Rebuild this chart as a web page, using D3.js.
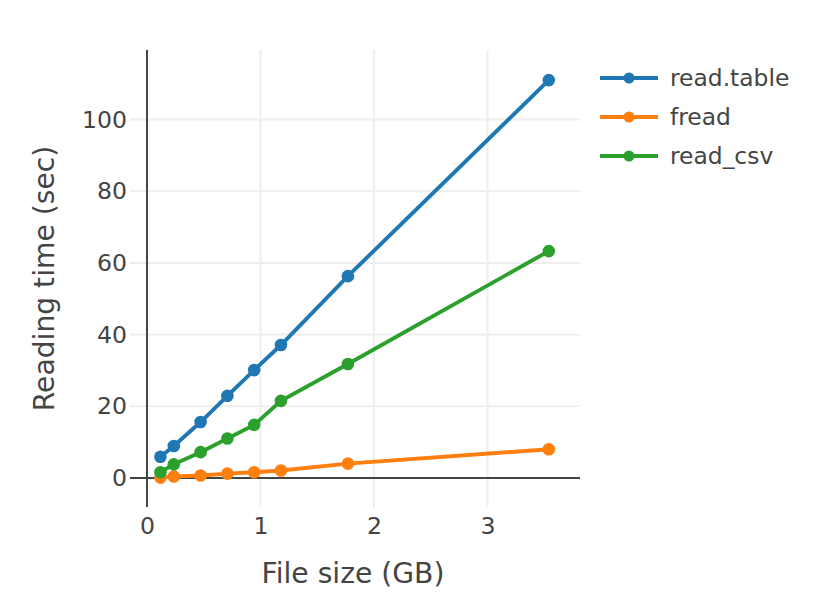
<!DOCTYPE html>
<html>
<head>
<meta charset="utf-8">
<script src="https://cdn.jsdelivr.net/npm/d3@7"></script>
<style>
  body { margin: 0; background: #fff; }
  svg { font-family: Verdana, 'DejaVu Sans', sans-serif; }
</style>
</head>
<body>
<div id="chart"></div>
<script>
// file sizes in GB
let fileSize = [0.118, 0.236, 0.472, 0.708, 0.944, 1.18, 1.77, 3.54]
// reading time in seconds, per reader
let readTable = [5.9, 8.9, 15.6, 22.9, 30.1, 37.1, 56.3, 111.0]
let fread = [0.1, 0.4, 0.7, 1.2, 1.6, 2.1, 4.0, 8.0]
let readCsv = [1.6, 3.8, 7.2, 11.0, 14.8, 21.5, 31.8, 63.3]
let seriesNames = ['read.table', 'fread', 'read_csv']
let seriesColors = ['#1f77b4', '#ff7f0e', '#2ca02c']
let xTicks = [0, 1, 2, 3]
let yTicks = [0, 20, 40, 60, 80, 100]

let series = [readTable, fread, readCsv].map(function(vals, i){
  return { name: seriesNames[i], color: seriesColors[i],
           points: vals.map(function(v, j){ return { x: fileSize[j], y: v } }) }
})

let size = { width: 824, height: 604 }
let margin = { top: 50, right: 244, bottom: 97, left: 130 }
let chartWidth = size.width - margin.left - margin.right
let chartHeight = size.height - margin.top - margin.bottom
let textColor = '#444'

let svg = d3.select('#chart').append('svg')
            .attr('width', size.width)
            .attr('height', size.height)

let chartArea = svg.append('g')
            .attr('transform', 'translate(' + margin.left + ',' + margin.top + ')')

let xScale = d3.scaleLinear().domain([-0.15, 3.815]).range([0, chartWidth])
let yScale = d3.scaleLinear().domain([-8.1, 119.4]).range([chartHeight, 0])

//grid lines
chartArea.append('g')
  .selectAll('line.xgrid')
  .data(xTicks.filter(function(d){ return d !== 0 }))
  .enter().append('line')
  .attr('x1', function(d){ return xScale(d) })
  .attr('x2', function(d){ return xScale(d) })
  .attr('y1', 0).attr('y2', chartHeight)
  .style('stroke', '#eee').style('stroke-width', 2)

chartArea.append('g')
  .selectAll('line.ygrid')
  .data(yTicks.filter(function(d){ return d !== 0 }))
  .enter().append('line')
  .attr('y1', function(d){ return yScale(d) })
  .attr('y2', function(d){ return yScale(d) })
  .attr('x1', 0).attr('x2', chartWidth)
  .style('stroke', '#eee').style('stroke-width', 2)

//zero lines
chartArea.append('line')
  .attr('x1', xScale(0)).attr('x2', xScale(0))
  .attr('y1', 0).attr('y2', chartHeight)
  .style('stroke', textColor).style('stroke-width', 2)
chartArea.append('line')
  .attr('x1', 0).attr('x2', chartWidth)
  .attr('y1', yScale(0)).attr('y2', yScale(0))
  .style('stroke', textColor).style('stroke-width', 2)

//axes (labels only, plotly style)
let xAxis = chartArea.append('g')
      .attr('transform', 'translate(0,' + (chartHeight + 2) + ')')
      .call(d3.axisBottom(xScale).tickValues(xTicks).tickSize(0).tickPadding(8).tickFormat(d3.format('d')))
let yAxis = chartArea.append('g')
      .attr('transform', 'translate(-3,0)')
      .call(d3.axisLeft(yScale).tickValues(yTicks).tickSize(0).tickPadding(0).tickFormat(d3.format('d')))
;[xAxis, yAxis].forEach(function(ax){
  ax.select('.domain').remove()
  ax.selectAll('text')
    .style('font-size', '23.6px')
    .style('fill', textColor)
    .style('font-family', "Verdana, 'DejaVu Sans', sans-serif")
})

//lines + markers
let line = d3.line()
      .x(function(d){ return xScale(d.x) })
      .y(function(d){ return yScale(d.y) })

let traces = chartArea.selectAll('g.trace')
      .data(series)
      .enter().append('g')
      .attr('class', 'trace')

traces.append('path')
  .attr('d', function(d){ return line(d.points) })
  .style('fill', 'none')
  .style('stroke', function(d){ return d.color })
  .style('stroke-width', 3.9)

traces.selectAll('circle')
  .data(function(d){ return d.points.map(function(p){ return { x: p.x, y: p.y, color: d.color } }) })
  .enter().append('circle')
  .attr('cx', function(d){ return xScale(d.x) })
  .attr('cy', function(d){ return yScale(d.y) })
  .attr('r', 6.3)
  .style('fill', function(d){ return d.color })

//axis titles
svg.append('text')
  .attr('x', margin.left + chartWidth / 2 - 2)
  .attr('y', 583)
  .style('text-anchor', 'middle')
  .style('font-size', '28.2px')
  .style('fill', textColor)
  .text('File size (GB)')

svg.append('text')
  .attr('transform', 'translate(54,' + (margin.top + chartHeight / 2) + ') rotate(-90)')
  .style('text-anchor', 'middle')
  .style('font-size', '28.2px')
  .style('fill', textColor)
  .text('Reading time (sec)')

//legend
let legend = svg.append('g')
      .attr('transform', 'translate(600,78)')
let items = legend.selectAll('g.item')
      .data(series)
      .enter().append('g')
      .attr('class', 'item')
      .attr('transform', function(d, i){ return 'translate(0,' + (i * 39) + ')' })
items.append('line')
  .attr('x1', 0).attr('x2', 58)
  .style('stroke', function(d){ return d.color })
  .style('stroke-width', 3.9)
items.append('circle')
  .attr('cx', 29).attr('r', 5.5)
  .style('fill', function(d){ return d.color })
items.append('text')
  .attr('x', 70)
  .attr('dy', '0.35em')
  .style('font-size', '23.4px')
  .style('fill', textColor)
  .text(function(d){ return d.name })
</script>
</body>
</html>
